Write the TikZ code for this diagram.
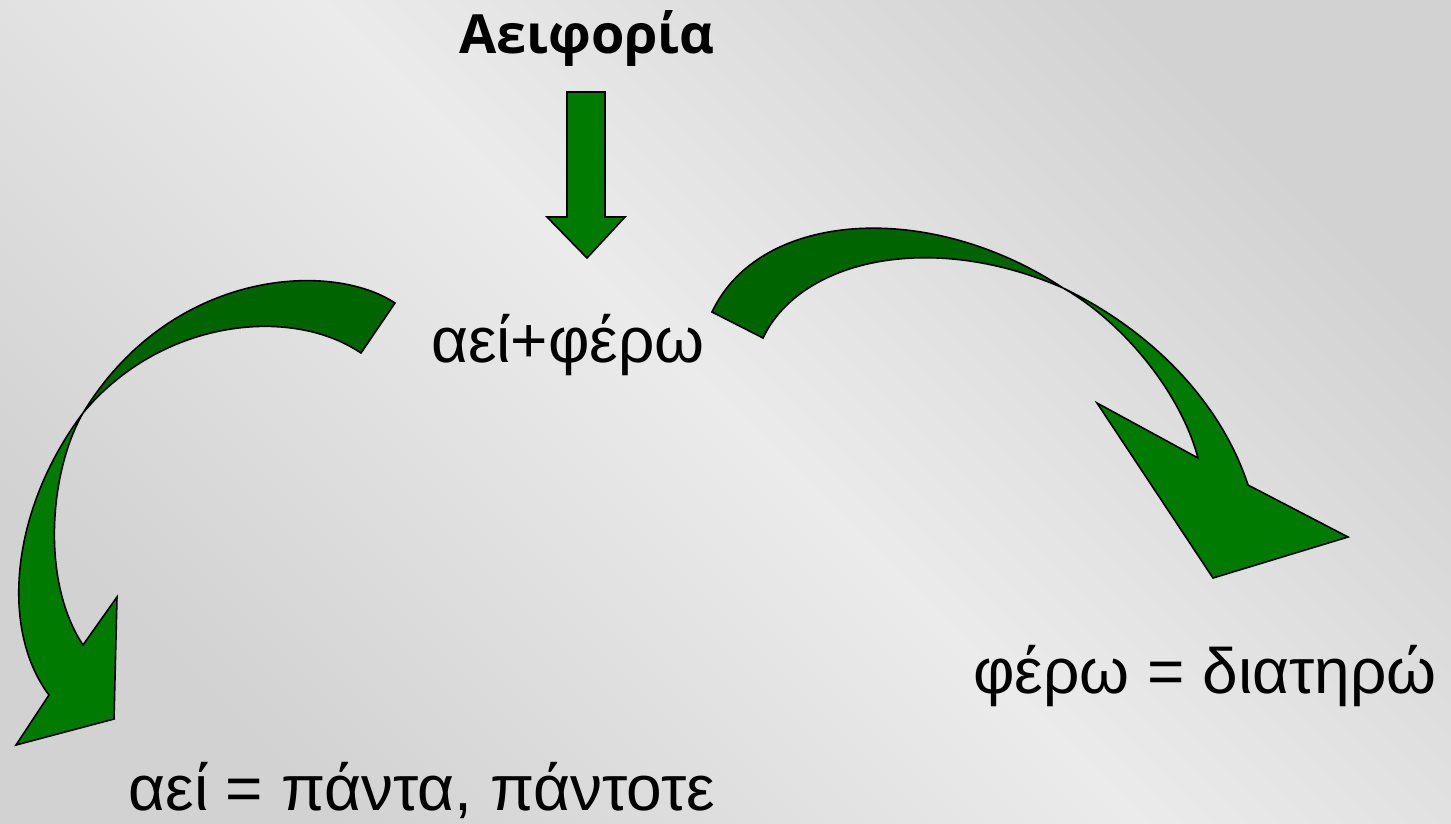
\documentclass[tikz,border=0pt]{standalone}
\usepackage{fontspec}
\setmainfont{Liberation Sans}
\newfontfamily\titlefont{Open Sans}
\usepackage{tikz}
\usetikzlibrary{calc}
\definecolor{arGreen}{HTML}{007A00}
\definecolor{arDark}{HTML}{006400}
\definecolor{bgLight}{HTML}{EBEBEB}
\definecolor{bgDark}{HTML}{D2D2D2}
\tikzset{
  word/.style={font=\fontsize{64}{76}\selectfont, inner sep=0pt, anchor=base},
  titleword/.style={word, font=\titlefont\bfseries\fontsize{54}{64}\selectfont},
  bandfront/.style={draw=black, line width=1.6pt, fill=arGreen, line join=miter},
  bandback/.style={bandfront, fill=arDark}
}
\begin{document}
\begin{tikzpicture}[x=1pt, y=-1pt]
  \useasboundingbox (0,0) rectangle (1451,823);
  \shade[left color=bgDark, right color=bgDark, middle color=bgLight, shading angle=135] (0,0) rectangle (1451,823);
  \node[titleword] (aeiforia) at (587,53) {Αειφορία};
  \node[word] (root) at (568,362) {αεί+φέρω};
  \node[word] (aei) at (422,810) {αεί = πάντα, πάντοτε};
  \node[word] (fero) at (1205,693) {φέρω = διατηρώ};
  \draw[bandfront] (567,92) -- (605,92) -- (605,217) -- (625,217) -- (587,258) -- (547,217) -- (567,217) -- cycle;
  \coordinate (lcross) at (83,413);
  \coordinate (rcross) at (1063,288);
  \draw[bandback] (395,303) .. controls (330,260) and (170,270) .. (lcross) .. controls (160,320) and (290,305) .. (361,353) -- cycle;
  \draw[bandfront] (lcross) .. controls (10,510) and (0,630) .. (49,695) -- (16,745) -- (114,719) -- (117,597) -- (83,645) .. controls (40,580) and (50,470) .. (lcross) -- cycle;
  \draw[bandback] (712,312) .. controls (760,210) and (930,200) .. (rcross) .. controls (930,230) and (800,260) .. (763,338) -- cycle;
  \draw[bandfront] (rcross) .. controls (1150,330) and (1220,400) .. (1248,485) -- (1348,537) -- (1213,578) -- (1097,403) -- (1198,458) .. controls (1180,390) and (1120,320) .. (rcross) -- cycle;
\end{tikzpicture}
\end{document}
